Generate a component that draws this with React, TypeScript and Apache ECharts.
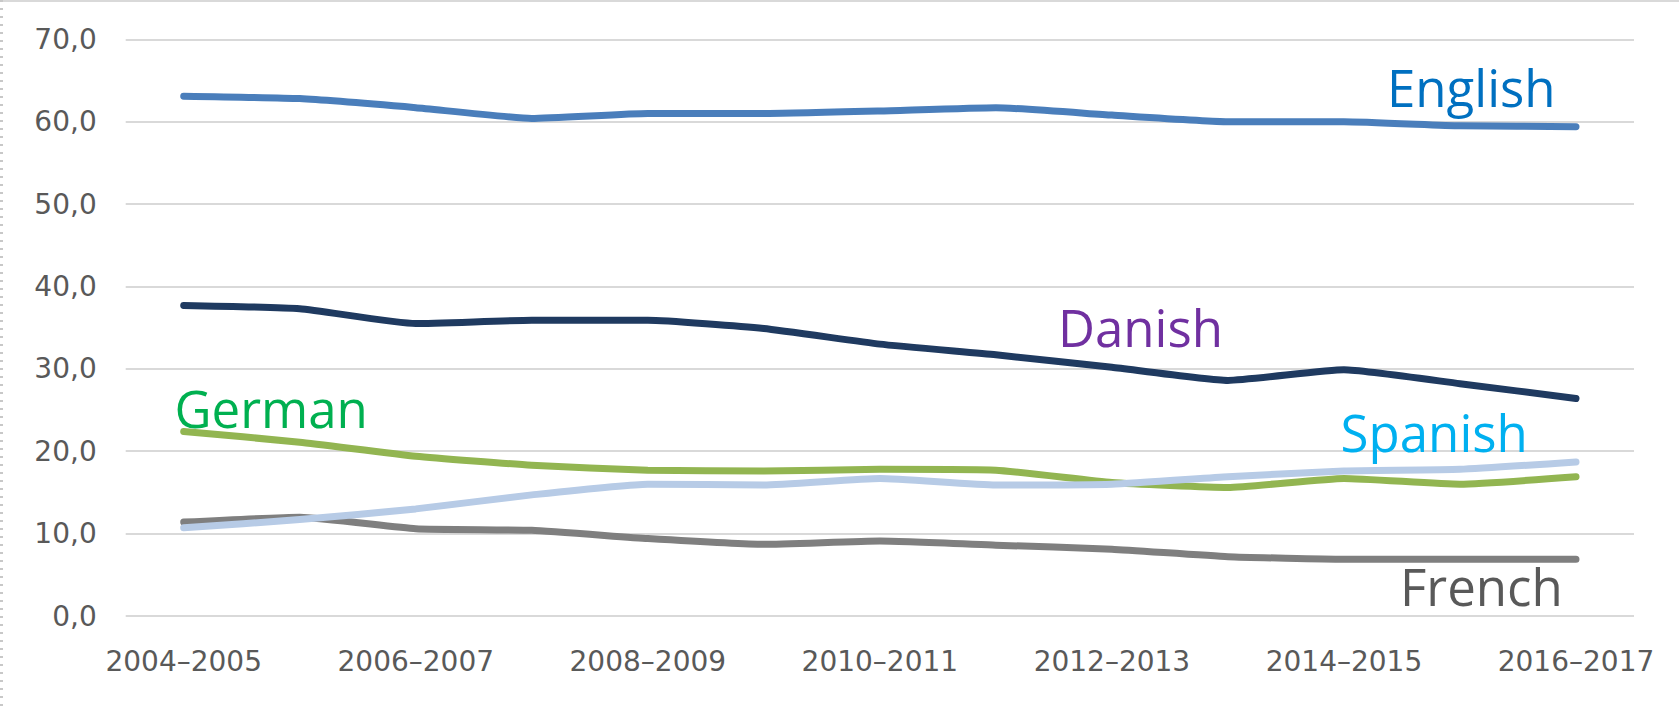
import React, { useEffect, useRef } from "react";
import * as echarts from "echarts";

const categories = [
  "2004–2005", "2005–2006", "2006–2007", "2007–2008", "2008–2009", "2009–2010",
  "2010–2011", "2011–2012", "2012–2013", "2013–2014", "2014–2015", "2015–2016", "2016–2017",
];

const english = [63.1, 62.8, 61.7, 60.4, 61.0, 61.0, 61.3, 61.7, 60.8, 60.0, 60.0, 59.5, 59.4];
const danish = [37.7, 37.3, 35.5, 35.9, 35.9, 34.9, 33.0, 31.7, 30.2, 28.6, 29.9, 28.2, 26.4];
const german = [22.4, 21.1, 19.4, 18.3, 17.7, 17.6, 17.8, 17.7, 16.2, 15.6, 16.7, 16.0, 16.9];
const french = [11.4, 12.0, 10.6, 10.4, 9.4, 8.7, 9.1, 8.6, 8.1, 7.2, 6.9, 6.9, 6.9];
const spanish = [10.7, 11.7, 13.0, 14.7, 16.0, 15.9, 16.7, 15.9, 16.0, 16.9, 17.6, 17.8, 18.7];

const yTicks = [0, 10, 20, 30, 40, 50, 60, 70];

const seriesNames = ["English", "Danish", "German", "French", "Spanish"];
const seriesData = [english, danish, german, french, spanish];
const lineColors = ["#4A7EBB", "#1F3A60", "#92B551", "#7F7F7F", "#B7CBE6"];
const labelColors = ["#0070C0", "#7030A0", "#00B050", "#595959", "#00B0F0"];

export default function App() {
  const ref = useRef<HTMLDivElement>(null);
  useEffect(() => {
    if (!ref.current) return;
    const chart = echarts.init(ref.current, null, { renderer: "svg" });
    const W = 1679;
    const H = 711;
    const gridLeft = 125.7;
    const gridRight = 45;
    const gridTop = 39.3;
    const gridBottom = 95;
    const annot = [
      { name: "English", x: 1387, y: 86.5 },
      { name: "Danish", x: 1058, y: 326.6 },
      { name: "German", x: 174.5, y: 407.8 },
      { name: "French", x: 1400, y: 585.8 },
      { name: "Spanish", x: 1340.6, y: 431.5 },
    ];
    chart.setOption({
      animation: false,
      backgroundColor: "#ffffff",
      grid: {
        left: gridLeft,
        right: gridRight,
        top: gridTop,
        bottom: gridBottom,
        containLabel: false,
      },
      xAxis: {
        type: "category",
        data: categories,
        boundaryGap: true,
        axisLine: { show: false },
        axisTick: { show: false },
        axisLabel: {
          interval: 1,
          margin: 31,
          color: "#595959",
          fontFamily: "DejaVu Sans",
          fontSize: 28,
        },
        splitLine: { show: false },
      },
      yAxis: {
        type: "value",
        min: yTicks[0],
        max: yTicks[yTicks.length - 1],
        interval: 10,
        axisLine: { show: false },
        axisTick: { show: false },
        axisLabel: {
          margin: 29,
          color: "#595959",
          fontFamily: "DejaVu Sans",
          fontSize: 28,
          formatter: (v: number) => v.toFixed(1).replace(".", ","),
        },
        splitLine: { show: true, lineStyle: { color: "#D9D9D9", width: 2 } },
      },
      series: seriesNames.map((name, i) => ({
        name,
        type: "line",
        data: seriesData[i],
        showSymbol: false,
        symbol: "none",
        smooth: 0.15,
        lineStyle: { color: lineColors[i], width: 7, cap: "round", join: "round" },
        z: 2 + i,
      })),
      graphic: [
        {
          type: "line",
          shape: { x1: 0, y1: 1, x2: W, y2: 1 },
          style: { stroke: "#D9D9D9", lineWidth: 2 },
        },
        {
          type: "line",
          shape: { x1: 1.5, y1: 0, x2: 1.5, y2: H },
          style: { stroke: "#C8C8C8", lineWidth: 3, lineDash: [2, 6] },
        },
        ...annot.map((a) => ({
          type: "text",
          x: a.x,
          y: a.y,
          style: {
            text: a.name,
            fill: labelColors[seriesNames.indexOf(a.name)],
            font: "51px 'Open Sans'",
            textAlign: "left",
            textVerticalAlign: "middle",
          },
          z: 100,
        })),
      ],
    });
    return () => chart.dispose();
  }, []);
  return (
    <div
      ref={ref}
      style={{ position: "absolute", left: 0, top: 0, width: 1679, height: 711 }}
    />
  );
}
